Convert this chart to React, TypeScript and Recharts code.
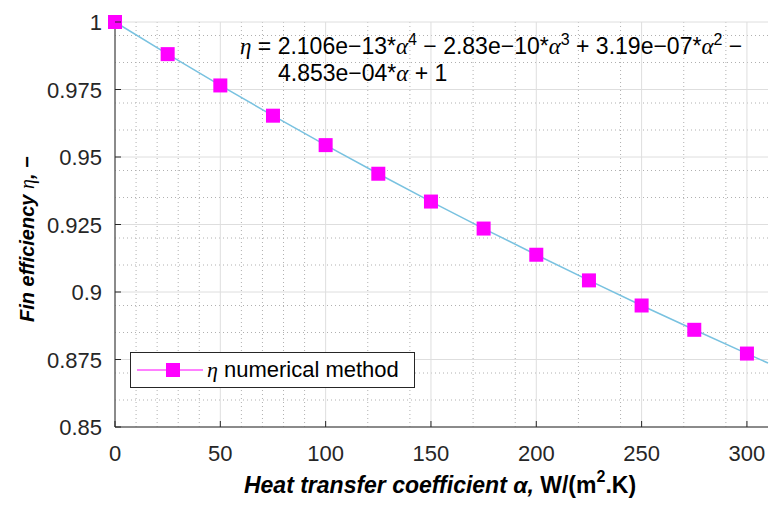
import React from 'react';
import { LineChart, Line, XAxis, YAxis, CartesianGrid } from 'recharts';

// heat transfer coefficient values (W/(m2.K))
const alpha = [0, 25, 50, 75, 100, 125, 150, 175, 200, 225, 250, 275, 300, 310];
// fin efficiency from the numerical method (markers)
const etaNumerical = [1, 0.9881, 0.9765, 0.9653, 0.9544, 0.9438, 0.9335, 0.9235, 0.9138, 0.9043, 0.895, 0.886, 0.8772, null];
// polynomial fit curve (blue line)
const etaFit = [1, 0.9881, 0.9765, 0.9653, 0.9544, 0.9438, 0.9335, 0.9235, 0.9138, 0.9043, 0.895, 0.886, 0.8772, 0.8737];

const xTicks = [0, 50, 100, 150, 200, 250, 300];
const yTicks = [0.85, 0.875, 0.9, 0.925, 0.95, 0.975, 1];
const xMinor = [10, 20, 30, 40, 60, 70, 80, 90, 110, 120, 130, 140, 160, 170, 180, 190, 210, 220, 230, 240, 260, 270, 280, 290];
const yMinor = [0.855, 0.86, 0.865, 0.87, 0.88, 0.885, 0.89, 0.895, 0.905, 0.91, 0.915, 0.92, 0.93, 0.935, 0.94, 0.945, 0.955, 0.96, 0.965, 0.97, 0.98, 0.985, 0.99, 0.995];

const data = alpha.map((a, i) => ({ a, eta: etaNumerical[i], fit: etaFit[i] }));

const AXIS = '#262626';
const FONT = '"Liberation Sans", Arial, Helvetica, sans-serif';
const GREEK = '"Liberation Serif", "DejaVu Serif", serif';

const LeftTick = (props: any) => {
  const { x, y, payload } = props;
  return (
    <g>
      <line x1={x} x2={x + 6} y1={y} y2={y} stroke={AXIS} />
      <text x={x - 13} y={y} dy={8} textAnchor="end" fill={AXIS} fontSize={22} fontFamily={FONT}>
        {String(payload.value)}
      </text>
    </g>
  );
};

const RightTick = (props: any) => {
  const { x, y } = props;
  return <line x1={x - 6} x2={x} y1={y} y2={y} stroke={AXIS} />;
};

const BottomTick = (props: any) => {
  const { x, y, payload } = props;
  return (
    <g>
      <line x1={x} x2={x} y1={y - 6} y2={y} stroke={AXIS} />
      <text x={x} y={y + 26} dy={8} textAnchor="middle" fill={AXIS} fontSize={22} fontFamily={FONT}>
        {payload.value}
      </text>
    </g>
  );
};

const TopTick = (props: any) => {
  const { x, y } = props;
  return <line x1={x} x2={x} y1={y} y2={y + 6} stroke={AXIS} />;
};

const SquareDot = (props: any) => {
  const { cx, cy, index } = props;
  if (cy == null || isNaN(cy)) return <g key={`d-${index}`} />;
  return <rect key={`d-${index}`} x={cx - 7} y={cy - 7} width={14} height={14} fill="#ff00ff" />;
};

const gk = { fontFamily: GREEK, fontStyle: 'italic' as const };
const sup = { fontSize: 16, position: 'relative' as const, top: -9 };

export default function App() {
  return (
    <div style={{ position: 'absolute', left: 0, top: 0, width: 769, height: 505, background: '#fff' }}>
      <LineChart width={769} height={505} data={data} margin={{ top: 22, right: 1, left: 0, bottom: 8 }}>
        <CartesianGrid verticalValues={xMinor} horizontalValues={yMinor} stroke="#b0b0b0" strokeDasharray="1 3" />
        <CartesianGrid verticalValues={xTicks} horizontalValues={yTicks} stroke="#dedede" />
        <XAxis
          dataKey="a"
          type="number"
          domain={[0, 310]}
          ticks={xTicks}
          stroke={AXIS}
          tickLine={false}
          tickSize={0}
          tickMargin={0}
          height={70}
          tick={<BottomTick />}
        />
        <XAxis xAxisId="top" orientation="top" dataKey="a" type="number" domain={[0, 310]} ticks={xTicks} stroke={AXIS} tickLine={false} tickSize={0} tickMargin={0} height={0} tick={<TopTick />} />
        <YAxis
          type="number"
          domain={[0.85, 1]}
          ticks={yTicks}
          stroke={AXIS}
          tickLine={false}
          tickSize={0}
          tickMargin={0}
          width={115}
          tick={<LeftTick />}
        />
        <YAxis yAxisId="right" orientation="right" type="number" domain={[0.85, 1]} ticks={yTicks} stroke={AXIS} tickLine={false} tickSize={0} tickMargin={0} width={0} tick={<RightTick />} />
        <Line type="linear" dataKey="fit" stroke="#79c2e0" strokeWidth={1.5} dot={false} isAnimationActive={false} />
        <Line type="linear" dataKey="eta" stroke="none" dot={<SquareDot />} activeDot={false} isAnimationActive={false} />
      </LineChart>

      {/* axis titles */}
      <svg width={769} height={505} style={{ position: 'absolute', left: 0, top: 0, pointerEvents: 'none' }}>
        <text x={440} y={493} textAnchor="middle" fill="#000" fontSize={23} fontFamily={FONT} fontWeight="bold">
          <tspan fontStyle="italic">Heat transfer coefficient α, </tspan>W/(m
          <tspan dy={-11} fontSize={16}>2</tspan>
          <tspan dy={11}>.K)</tspan>
        </text>
        <text x={34} y={322} transform="rotate(-90,34,322)" textAnchor="start" fill="#000" fontSize={20} fontFamily={FONT} fontWeight="bold" fontStyle="italic">
          Fin efficiency <tspan fontFamily={GREEK} fontWeight="normal">η</tspan>, −
        </text>
      </svg>

      {/* legend */}
      <div
        style={{
          position: 'absolute',
          left: 130,
          top: 352,
          width: 283,
          height: 34,
          border: `1px solid ${AXIS}`,
          background: '#fff',
          display: 'flex',
          alignItems: 'center',
          fontFamily: FONT,
          fontSize: 22,
          color: '#000',
        }}
      >
        <svg width={76} height={34}>
          <line x1={6} x2={72} y1={17} y2={17} stroke="#ff00ff" strokeWidth={1} />
          <rect x={35} y={10} width={14} height={14} fill="#ff00ff" />
        </svg>
        <span style={{ fontFamily: GREEK, fontStyle: 'italic', marginRight: 6 }}>η</span>
        <span>numerical method</span>
      </div>

      {/* fit equation */}
      <div style={{ position: 'absolute', left: 240, top: 34, fontFamily: FONT, fontSize: 23, color: '#000', lineHeight: '25px', whiteSpace: 'nowrap' }}>
        <div>
          <span style={gk}>η</span> = 2.106e−13*<span style={gk}>α</span>
          <span style={sup}>4</span> − 2.83e−10*<span style={gk}>α</span>
          <span style={sup}>3</span> + 3.19e−07*<span style={gk}>α</span>
          <span style={sup}>2</span> −
        </div>
        <div style={{ paddingLeft: 38 }}>
          4.853e−04*<span style={gk}>α</span> + 1
        </div>
      </div>
    </div>
  );
}
